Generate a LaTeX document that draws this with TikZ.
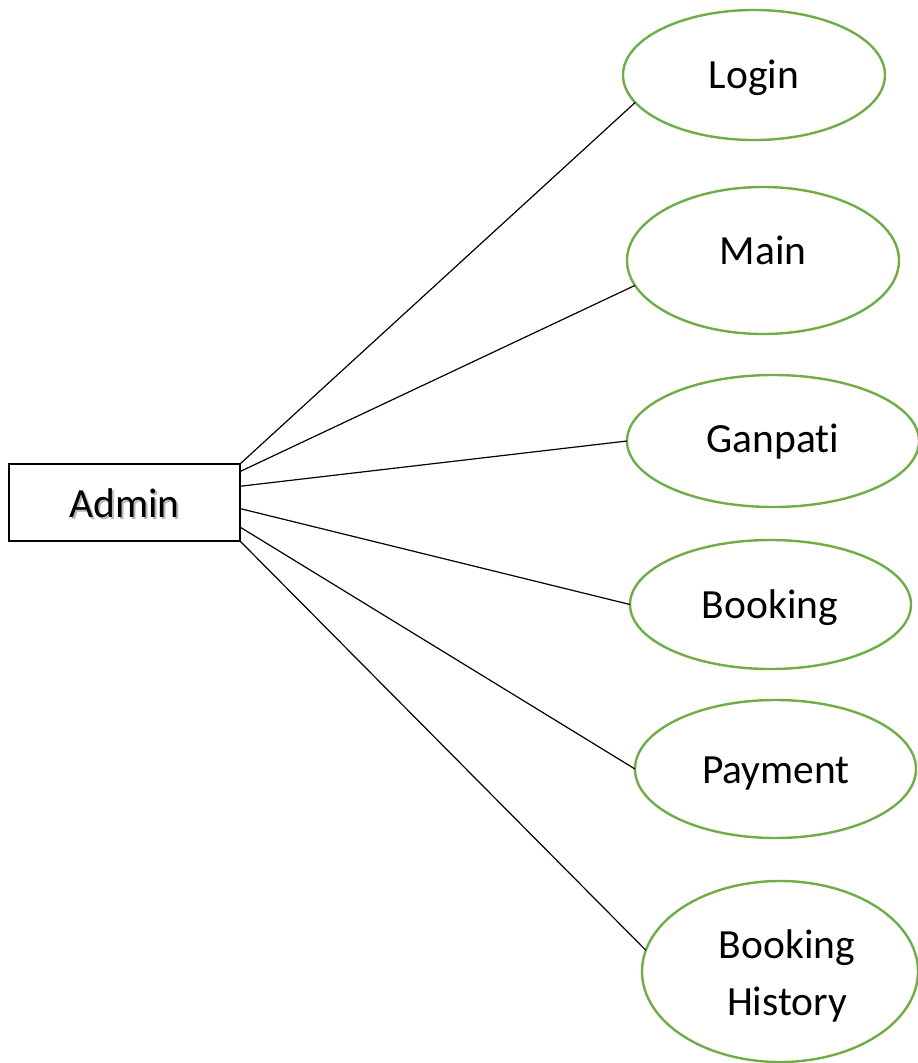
\documentclass[tikz,border=0pt]{standalone}
\usepackage{fontspec}
\setmainfont{Carlito}[Ligatures={NoCommon}]
\usetikzlibrary{shapes.geometric}
\definecolor{ovalgreen}{HTML}{70AD47}
\tikzset{
  oval/.style={ellipse, draw=ovalgreen, line width=2.4pt, inner sep=0pt, outer sep=0pt},
  lbl/.style={font=\fontsize{41.5}{50}\selectfont, inner sep=0pt, anchor=base},
  link/.style={line width=1.2pt, black},
  entity/.style={rectangle, draw=black, line width=2.6pt, inner sep=0pt, outer sep=0pt,
    minimum width=231pt, minimum height=77pt}
}
\begin{document}
\begin{tikzpicture}[x=1pt,y=-1pt]
\useasboundingbox (0,0) rectangle (918,1063);
% entity
\node[entity] (admin) at (124.5,502.5) {};
\node[lbl, text=black!35, opacity=0.8] (adminshadow) at (126.5,519) {Admin};
\node[lbl] (admintext) at (124.5,517) {Admin};
% ovals
\node[oval, minimum width=262pt, minimum height=130pt] (login) at (754,75) {};
\node[oval, minimum width=272pt, minimum height=147pt] (main) at (763,260.5) {};
\node[oval, minimum width=292pt, minimum height=132pt] (ganpati) at (773,441) {};
\node[oval, minimum width=281pt, minimum height=129pt] (booking) at (770.5,604.5) {};
\node[oval, minimum width=281pt, minimum height=138pt] (payment) at (775.5,769) {};
\node[oval, minimum width=276pt, minimum height=181pt] (history) at (780,971.5) {};
% labels
\node[lbl] (tlogin) at (754,88) {Login};
\node[lbl] (tmain) at (763,264) {Main};
\node[lbl] (tganpati) at (773,452) {Ganpati};
\node[lbl] (tbooking) at (770,618) {Booking};
\node[lbl] (tpayment) at (776,783) {Payment};
\node[lbl] (thist1) at (787,958) {Booking};
\node[lbl] (thist2) at (787,1015) {History};
% connectors
\draw[link] (admin.north east) -- (login.193.5);
\draw[link] (admin.15.7) -- (main.191.9);
\draw[link] (admin.8.6) -- (ganpati.180);
\draw[link] (admin.-3.2) -- (booking.180);
\draw[link] (admin.-12.9) -- (payment.180);
\draw[link] (admin.south east) -- (history.171.3);
\end{tikzpicture}
\end{document}
